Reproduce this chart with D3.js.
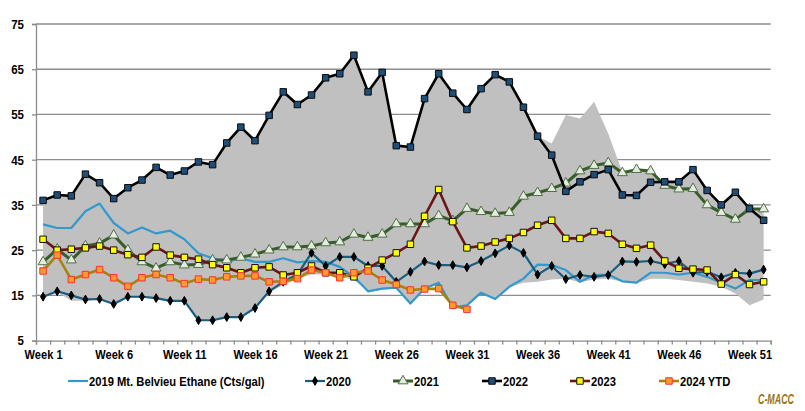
<!DOCTYPE html>
<html>
<head>
<meta charset="utf-8">
<script src="https://cdn.jsdelivr.net/npm/d3@7/dist/d3.min.js"></script>
<style>
  body { margin: 0; background: #fff; }
  svg text { font-family: "Liberation Sans", Arial, sans-serif; font-weight: bold; fill: #000; }
</style>
</head>
<body>
<svg id="chart" width="805" height="411"></svg>
<script>
// categories / ticks
var weeks = d3.range(1, 53);
var weekLabels = [1, 6, 11, 16, 21, 26, 31, 36, 41, 46, 51];
var yTicks = [5, 15, 25, 35, 45, 55, 65, 75];
var gridTicks = [15, 25, 35, 45, 55, 65, 75];

// series values (cts/gal)
var s2019 = [30.7, 29.9, 29.9, 33.6, 35.3, 31.0, 28.7, 30.0, 28.7, 29.3, 27.4, 24.3, 23.2, 22.4, 23.2, 22.4, 22.4, 23.2, 22.3, 22.6,
  22.4, 21.3, 19.1, 15.9, 16.5, 16.7, 13.2, 16.5, 17.8, 12.3, 12.8, 15.6, 14.2, 16.9, 18.7, 21.8, 21.7, 20.6, 18.0, 19.5,
  19.6, 18.1, 17.8, 20.0, 20.0, 19.6, 20.0, 19.1, 17.8, 16.5, 18.4, 18.4];
var s2020 = [14.7, 15.9, 15.0, 14.1, 14.2, 13.1, 14.7, 14.7, 14.4, 13.8, 13.8, 9.5, 9.5, 10.2, 10.2, 12.2, 15.9, 18.0, 19.6, 24.4,
  21.5, 23.5, 23.5, 21.5, 21.5, 18.0, 20.2, 22.5, 21.7, 21.7, 21.2, 22.6, 24.3, 26.0, 24.4, 19.6, 21.5, 18.6, 19.5, 19.1,
  19.5, 22.5, 22.4, 22.6, 21.9, 22.6, 20.0, 20.2, 19.0, 20.0, 19.8, 20.7];
var s2021 = [22.4, 25.2, 22.8, 25.9, 26.5, 28.3, 25.0, 22.4, 21.0, 22.4, 21.7, 21.8, 22.8, 22.8, 23.4, 24.1, 25.0, 25.7, 25.7, 25.9,
  26.6, 26.8, 28.5, 27.8, 28.5, 30.8, 30.8, 30.8, 32.6, 31.5, 34.2, 33.5, 33.1, 33.3, 36.9, 37.7, 38.6, 39.8, 42.5, 43.7,
  44.3, 42.1, 42.8, 42.5, 39.3, 38.5, 38.6, 35.0, 33.3, 31.8, 34.1, 34.1];
var s2022 = [36.0, 37.2, 37.0, 41.8, 39.9, 36.4, 38.8, 40.5, 43.3, 41.6, 42.5, 44.5, 43.9, 48.7, 52.2, 49.2, 54.8, 60.0, 57.2, 59.3,
  63.1, 64.0, 68.1, 60.0, 64.3, 48.1, 47.8, 58.5, 64.0, 59.7, 56.1, 60.7, 63.8, 62.2, 56.6, 50.2, 46.0, 38.0, 40.1, 41.7,
  42.8, 37.2, 37.1, 40.0, 40.1, 40.1, 42.8, 38.2, 35.0, 37.8, 34.2, 31.6];
var s2023 = [27.4, 25.0, 25.2, 25.5, 25.9, 25.0, 24.0, 23.4, 25.7, 23.9, 23.4, 23.0, 21.8, 21.1, 20.0, 21.1, 21.3, 19.5, 20.0, 21.5,
  20.0, 20.0, 19.1, 21.0, 22.8, 24.4, 26.3, 32.5, 38.4, 31.3, 25.5, 25.9, 26.8, 27.6, 28.9, 30.5, 31.6, 27.6, 27.6, 29.1,
  28.7, 26.3, 25.4, 26.1, 22.6, 21.0, 20.8, 20.6, 17.5, 19.6, 17.4, 18.0];
var s2024 = [20.4, 23.9, 18.5, 19.6, 20.7, 18.9, 17.0, 18.9, 19.6, 18.9, 17.6, 18.6, 18.4, 19.1, 19.3, 19.3, 18.0, 18.1, 18.7, 20.6,
  20.0, 18.9, 20.0, 20.4, 18.4, 17.4, 16.2, 16.4, 16.5, 12.8, 11.9];

// grey historical range band
var rangeHigh = [36.0, 37.2, 37.0, 41.8, 39.9, 36.4, 38.8, 40.5, 43.3, 41.6, 42.5, 44.5, 43.9, 48.7, 52.2, 49.2, 54.8, 60.0, 57.2, 59.3,
  63.1, 64.0, 68.1, 60.0, 64.3, 48.1, 47.8, 58.5, 64.0, 59.7, 56.1, 60.7, 63.8, 62.2, 56.6, 50.2, 48.6, 54.9, 54.1, 57.8,
  50.8, 42.3, 42.8, 42.5, 40.1, 40.1, 42.8, 38.3, 35.0, 37.9, 34.2, 34.1];
var rangeLow = [14.5, 15.7, 13.8, 13.8, 14.1, 13.1, 14.6, 14.6, 14.3, 13.8, 13.8, 9.4, 9.4, 10.1, 10.1, 12.1, 15.7, 17.3, 18.7, 19.6,
  19.6, 19.1, 18.4, 16.0, 16.3, 16.5, 13.0, 16.3, 17.5, 12.1, 12.6, 15.5, 14.1, 16.8, 17.8, 18.0, 18.5, 18.7, 17.9, 18.5,
  18.7, 18.0, 17.7, 18.7, 18.7, 18.4, 18.0, 17.6, 16.9, 15.4, 12.8, 14.1];

var seriesNames = ["2019 Mt. Belvieu Ethane (Cts/gal)", "2020", "2021", "2022", "2023", "2024 YTD"];

// styles
var series = [
  {name: seriesNames[0], values: s2019, color: "#3399cc", width: 2.2, marker: null},
  {name: seriesNames[1], values: s2020, color: "#1b5d7e", width: 2.2, marker: "diamond", fill: "#000", stroke: "#000", size: 22},
  {name: seriesNames[2], values: s2021, color: "#385d2a", width: 3, marker: "triangle", fill: "#e4ecdf", stroke: "#4f6f45", size: 42},
  {name: seriesNames[3], values: s2022, color: "#000", width: 2.6, marker: "square", fill: "#1f4e79", stroke: "#0a0a0a", size: 42},
  {name: seriesNames[4], values: s2023, color: "#6a1616", width: 2.6, marker: "square", fill: "#ffff00", stroke: "#111", size: 42},
  {name: seriesNames[5], values: s2024, color: "#a8820c", width: 2.6, marker: "square", fill: "#ff9a2e", stroke: "#ff3030", size: 42}
];

var svg = d3.select("#chart");
var margin = {left: 36, right: 34.3, top: 24, bottom: 70.4};
var width = 805, height = 411;

// the original font is a narrow one: squeeze the text horizontally
function narrow(sel, k) {
  sel.each(function() {
    var w = this.getComputedTextLength();
    d3.select(this).attr("textLength", w * k).attr("lengthAdjust", "spacingAndGlyphs");
  });
}

var x = d3.scaleLinear().domain([0.5, 52.5]).range([margin.left, width - margin.right]);
var y = d3.scaleLinear().domain([5, 75]).range([height - margin.bottom, margin.top]);

// gridlines (under the range band)
svg.append("g").selectAll("line").data(gridTicks).enter().append("line")
  .attr("x1", x(0.5)).attr("x2", x(52.5))
  .attr("y1", d => y(d)).attr("y2", d => y(d))
  .attr("stroke", "#8c8c8c").attr("stroke-width", 1.3);

// range band
var band = d3.area()
  .x((d, i) => x(weeks[i]))
  .y0((d, i) => y(rangeLow[i]))
  .y1(d => y(d));
svg.append("path").datum(rangeHigh)
  .attr("fill", "#c0c0c0")
  .attr("d", band);

// axes
var yAxis = g => g
  .attr("transform", `translate(${margin.left},0)`)
  .call(d3.axisLeft(y).tickValues(yTicks).tickSize(4).tickPadding(8).tickFormat(d3.format("d")))
  .call(g => g.selectAll("line, .domain").attr("stroke", "#8c8c8c").attr("stroke-width", 1.3))
  .call(g => g.selectAll("text").attr("font-size", 13.5).call(narrow, 0.85));

var xTickAxis = g => g
  .attr("transform", `translate(0,${y(5)})`)
  .call(d3.axisBottom(x).tickValues(d3.range(0.5, 53, 1)).tickSize(4).tickFormat(""))
  .call(g => g.selectAll("line, .domain").attr("stroke", "#8c8c8c").attr("stroke-width", 1.3));

var xLabelAxis = g => g
  .attr("transform", `translate(0,${y(5)})`)
  .call(d3.axisBottom(x).tickValues(weekLabels).tickSize(0).tickFormat(d => "Week " + d))
  .call(g => g.select(".domain").remove())
  .call(g => g.selectAll("text").attr("font-size", 13.5).attr("y", 18).attr("dy", 0).call(narrow, 0.82));

svg.append("g").call(yAxis);
svg.append("g").call(xTickAxis);
svg.append("g").call(xLabelAxis);

function symbolFor(m) {
  if (m === "diamond") return d3.symbolDiamond;
  if (m === "triangle") return d3.symbolTriangle;
  return d3.symbolSquare;
}

var line = d3.line().x((d, i) => x(weeks[i])).y(d => y(d));

series.forEach(function(s) {
  var g = svg.append("g");
  g.append("path").datum(s.values)
    .attr("fill", "none")
    .attr("stroke", s.color)
    .attr("stroke-width", s.width)
    .attr("stroke-linejoin", "round")
    .attr("d", line);
  if (s.marker) {
    g.selectAll("path.m").data(s.values).enter().append("path")
      .attr("class", "m")
      .attr("transform", (d, i) => `translate(${x(weeks[i])},${y(d)})`)
      .attr("d", d3.symbol().type(symbolFor(s.marker)).size(s.size))
      .attr("fill", s.fill)
      .attr("stroke", s.stroke)
      .attr("stroke-width", 1);
  }
});

// legend
var legendX = [68, 305, 393, 482, 570, 659];
var legendY = 381;
var leg = svg.append("g");
series.forEach(function(s, i) {
  var lx = legendX[i];
  leg.append("line")
    .attr("x1", lx).attr("x2", lx + 20)
    .attr("y1", legendY).attr("y2", legendY)
    .attr("stroke", s.color).attr("stroke-width", s.width);
  if (s.marker) {
    leg.append("path")
      .attr("transform", `translate(${lx + 10},${legendY})`)
      .attr("d", d3.symbol().type(symbolFor(s.marker)).size(s.size))
      .attr("fill", s.fill).attr("stroke", s.stroke).attr("stroke-width", 1);
  }
  leg.append("text")
    .attr("x", lx + 21).attr("y", legendY + 5)
    .attr("font-size", 13.5)
    .text(s.name)
    .call(narrow, 0.83);
});

// source tag, squeezed with a transform so its box stays inside the page
var tag = svg.append("text")
  .attr("font-size", 15)
  .attr("font-style", "italic")
  .style("fill", "#9c7414")
  .text("C-MACC");
var tagW = tag.node().getComputedTextLength();
tag.attr("transform", `translate(758,404) scale(${36 / tagW},1)`);
</script>
</body>
</html>
